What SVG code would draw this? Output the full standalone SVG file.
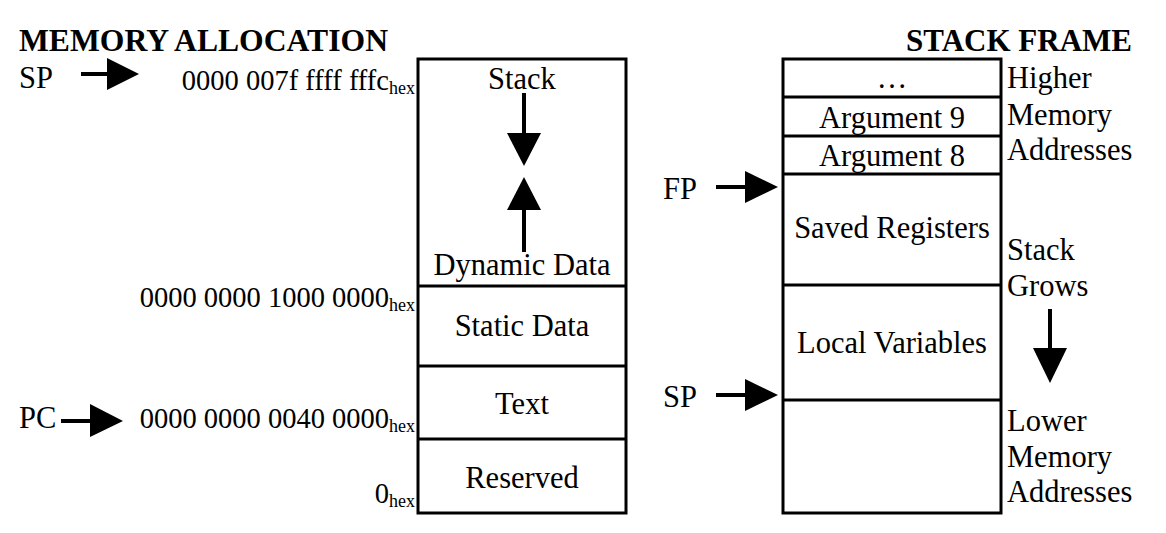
<svg xmlns="http://www.w3.org/2000/svg" width="1166" height="533" viewBox="0 0 1166 533">
<style>
  text { font-family: "Liberation Serif", "Times New Roman", serif; fill: #000; }
  .title { font-size: 31px; font-weight: bold; }
  .lbl { font-size: 30.5px; }
  .c { text-anchor: middle; }
  .addr { font-size: 28.5px; text-anchor: end; }
  .sub { font-size: 18px; }
  .box { fill: #fff; stroke: #000; stroke-width: 3; }
  .div { stroke: #000; stroke-width: 3; }
  .shaft { stroke: #000; stroke-width: 4; }
  .head { fill: #000; }
</style>
<rect width="1166" height="533" fill="#fff"/>

<text class="title" x="19" y="51" textLength="369" lengthAdjust="spacingAndGlyphs">MEMORY ALLOCATION</text>
<text class="title" x="1132" y="51" text-anchor="end">STACK FRAME</text>

<g id="memory-allocation">
  <rect class="box" x="418" y="59" width="208" height="454"/>
  <line class="div" x1="418" y1="286" x2="626" y2="286"/>
  <line class="div" x1="418" y1="366" x2="626" y2="366"/>
  <line class="div" x1="418" y1="439" x2="626" y2="439"/>
  <g id="seg-stack">
    <text class="lbl c" x="522" y="89">Stack</text>
    <text class="lbl c" x="522" y="275">Dynamic Data</text>
  </g>
  <g id="seg-static"><text class="lbl c" x="522" y="336">Static Data</text></g>
  <g id="seg-text"><text class="lbl c" x="522" y="414">Text</text></g>
  <g id="seg-reserved"><text class="lbl c" x="522" y="488">Reserved</text></g>
</g>

<g id="addresses">
  <text class="addr" x="415" y="90">0000 007f ffff fffc<tspan class="sub" dy="4">hex</tspan></text>
  <text class="addr" x="415" y="307">0000 0000 1000 0000<tspan class="sub" dy="4">hex</tspan></text>
  <text class="addr" x="415" y="428">0000 0000 0040 0000<tspan class="sub" dy="4">hex</tspan></text>
  <text class="addr" x="415" y="503">0<tspan class="sub" dy="4">hex</tspan></text>
</g>

<g id="pointer-labels">
  <text class="lbl" x="19" y="88">SP</text>
  <text class="lbl" x="19" y="428">PC</text>
  <text class="lbl" x="663" y="199">FP</text>
  <text class="lbl" x="663" y="407">SP</text>
</g>

<g id="stack-frame">
  <rect class="box" x="783" y="59" width="218" height="454"/>
  <line class="div" x1="783" y1="97" x2="1001" y2="97"/>
  <line class="div" x1="783" y1="136" x2="1001" y2="136"/>
  <line class="div" x1="783" y1="174" x2="1001" y2="174"/>
  <line class="div" x1="783" y1="285" x2="1001" y2="285"/>
  <line class="div" x1="783" y1="400" x2="1001" y2="400"/>
  <g id="frame-dots"><text class="lbl c" x="892" y="88">…</text></g>
  <g id="frame-arg9"><text class="lbl c" x="892" y="128">Argument 9</text></g>
  <g id="frame-arg8"><text class="lbl c" x="892" y="166">Argument 8</text></g>
  <g id="frame-saved"><text class="lbl c" x="892" y="238">Saved Registers</text></g>
  <g id="frame-locals"><text class="lbl c" x="892" y="353">Local Variables</text></g>
</g>

<g id="side-notes">
  <text class="lbl" x="1007" y="88">Higher</text>
  <text class="lbl" x="1007" y="125">Memory</text>
  <text class="lbl" x="1007" y="160">Addresses</text>
  <text class="lbl" x="1007" y="260">Stack</text>
  <text class="lbl" x="1007" y="296">Grows</text>
  <text class="lbl" x="1007" y="431">Lower</text>
  <text class="lbl" x="1007" y="467">Memory</text>
  <text class="lbl" x="1007" y="502">Addresses</text>
</g>

<g id="connectors">
  <!-- SP left -->
  <line class="shaft" x1="81" y1="74" x2="110" y2="74"/>
  <polygon class="head" points="107,58 139,74 107,90"/>
  <!-- PC -->
  <line class="shaft" x1="61" y1="421" x2="92" y2="421"/>
  <polygon class="head" points="90,404 123,421 90,437"/>
  <!-- FP -->
  <line class="shaft" x1="716" y1="187" x2="747" y2="187"/>
  <polygon class="head" points="745,171 778,187 745,203"/>
  <!-- SP right -->
  <line class="shaft" x1="716" y1="395" x2="747" y2="395"/>
  <polygon class="head" points="745,379 778,395 745,411"/>
  <!-- stack down -->
  <line class="shaft" x1="524" y1="93" x2="524" y2="135"/>
  <polygon class="head" points="507,133 541,133 524,166"/>
  <!-- heap up -->
  <line class="shaft" x1="524" y1="208" x2="524" y2="252"/>
  <polygon class="head" points="507,210 541,210 524,177"/>
  <!-- stack grows -->
  <line class="shaft" x1="1050" y1="309" x2="1050" y2="350"/>
  <polygon class="head" points="1033,348 1067,348 1050,383"/>
</g>
</svg>
